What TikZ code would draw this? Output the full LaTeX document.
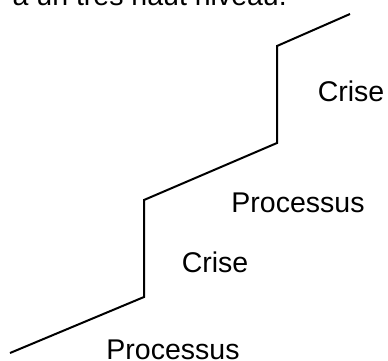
\documentclass[tikz,border=0pt]{standalone}
\usepackage{fontspec}
\setmainfont{Liberation Sans}
\usetikzlibrary{positioning}

\begin{document}
\begin{tikzpicture}[x=1pt,y=1pt]
                \tikzstyle{every node}+=[inner sep=0pt, anchor=base, font=\fontsize{28.5}{34}\selectfont]
                \tikzstyle{stair}=[black, line width=2pt, line join=miter]
                \useasboundingbox (0,0) rectangle (388,-360);
                \clip (0,0) rectangle (388,-360);
                % heading, cut off at the top
                \node [anchor=base east] (titre) at (287,-5) {à un très haut niveau.};
                % corners of the staircase
                \coordinate (p0) at (10,-353);
                \coordinate (p1) at (144,-297);
                \coordinate (p2) at (144,-200);
                \coordinate (p3) at (277,-143);
                \coordinate (p4) at (277,-46);
                \coordinate (p5) at (350,-14);
                \draw [stair] (p0) -- (p1) -- (p2) -- (p3) -- (p4) -- (p5);
                % labels
                \node (proc1) at (173,-359) {Processus};
                \node (crise1) at (215,-272) {Crise};
                \node (proc2) at (298,-212) {Processus};
                \node (crise2) at (351,-101) {Crise};
\end{tikzpicture}
\end{document}
